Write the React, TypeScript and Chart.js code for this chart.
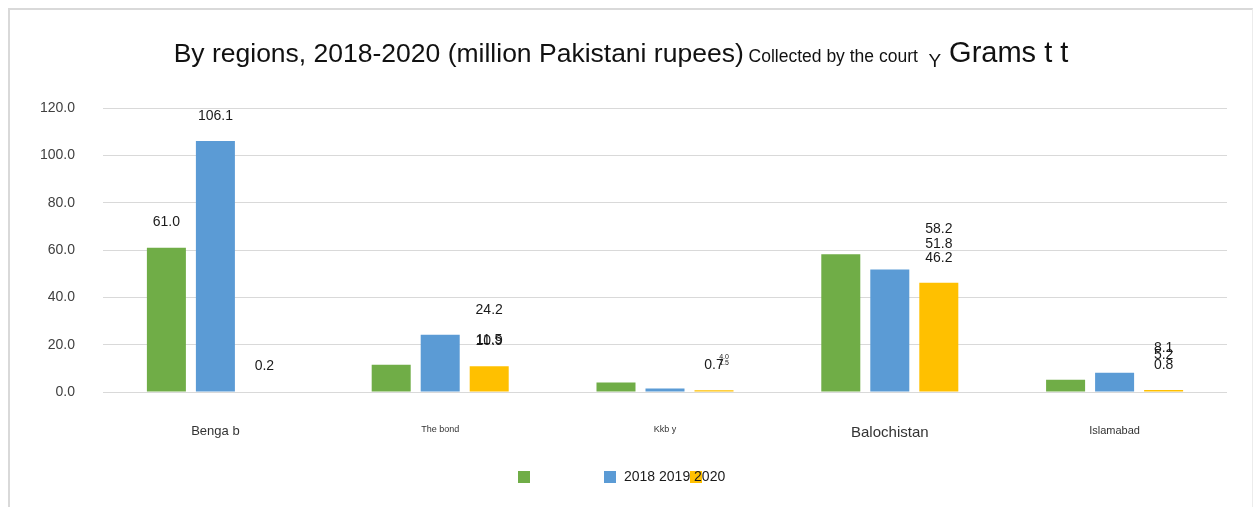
import React, { useEffect, useRef } from "react";
import { Chart, registerables } from "chart.js";

Chart.register(...registerables);

// ---- data ----
const categories = ["Benga b", "The bond", "Kkb y", "Balochistan", "Islamabad"];
const seriesGreen = [61.0, 11.5, 4.0, 58.2, 5.2];
const seriesBlue = [106.1, 24.2, 1.5, 51.8, 8.1];
const seriesYellow = [0.2, 10.9, 0.7, 46.2, 0.8];
const legendLabels = ["", "2018 2019 2020", ""];
const yMin = 0;
const yMax = 120;
const yStep = 20;
const titleMain = "By regions, 2018-2020 (million Pakistani rupees)";
const titleSmall = "Collected by the court";
const titleY = "Y";
const titleTail = "Grams t t";

// ---- styles ----
const FONT = "'Liberation Sans', Arial, sans-serif";
const COLORS = ["#70AD47", "#5B9BD5", "#FFC000"];
const categoryFontSizes = [13, 9, 9, 15, 11];
const tinyLabelCategory = 2;

const titlePlugin = {
  id: "customTitle",
  afterDraw(chart: any) {
    const ctx = chart.ctx;
    const parts = [
      { t: titleMain, s: 26.5, dy: 0 },
      { t: " " + titleSmall, s: 17.5, dy: 0 },
      { t: "  " + titleY, s: 19, dy: 5 },
      { t: " " + titleTail, s: 29, dy: 0 },
    ];
    ctx.save();
    ctx.fillStyle = "#111111";
    ctx.textBaseline = "alphabetic";
    ctx.textAlign = "left";
    let total = 0;
    const widths = parts.map((p) => {
      ctx.font = `${p.s}px ${FONT}`;
      const w = ctx.measureText(p.t).width;
      total += w;
      return w;
    });
    let x = 611 - total / 2;
    const base = 52;
    parts.forEach((p, i) => {
      ctx.font = `${p.s}px ${FONT}`;
      ctx.fillText(p.t, x, base + p.dy);
      x += widths[i];
    });
    ctx.restore();
  },
};

const labelPlugin = {
  id: "valueLabels",
  afterDatasetsDraw(chart: any) {
    const ctx = chart.ctx;
    ctx.save();
    ctx.fillStyle = "#1a1a1a";
    ctx.textAlign = "center";
    ctx.textBaseline = "middle";
    const n = chart.data.labels.length;
    for (let i = 0; i < n; i++) {
      chart.data.datasets.forEach((ds: any, d: number) => {
        const el = chart.getDatasetMeta(d).data[i];
        const anchor = i === 0 ? el : chart.getDatasetMeta(2).data[i];
        const tiny = i === tinyLabelCategory && d !== 2;
        ctx.font = `${tiny ? 7 : 14}px ${FONT}`;
        const dx = tiny ? 10 : 0;
        ctx.fillText(Number(ds.data[i]).toFixed(1), anchor.x + dx, el.y - 25);
      });
    }
    ctx.restore();
  },
};

const legendPlugin = {
  id: "customLegend",
  afterDraw(chart: any) {
    const ctx = chart.ctx;
    const cx = chart.width / 2;
    const y = 467;
    ctx.save();
    const boxes = [cx - 113, cx - 27, cx + 59];
    boxes.forEach((bx, i) => {
      ctx.fillStyle = COLORS[i];
      ctx.fillRect(bx, y - 6, 12, 12);
    });
    ctx.fillStyle = "#1a1a1a";
    ctx.font = `14px ${FONT}`;
    ctx.textBaseline = "middle";
    ctx.textAlign = "left";
    const textX = [cx - 97, cx - 7, cx + 75];
    legendLabels.forEach((t, i) => {
      if (t) ctx.fillText(t, textX[i], y);
    });
    ctx.restore();
  },
};

export default function App() {
  const ref = useRef<HTMLCanvasElement | null>(null);

  useEffect(() => {
    if (!ref.current) return;
    const chart = new Chart(ref.current, {
      type: "bar",
      data: {
        labels: categories,
        datasets: [
          { label: legendLabels[0], data: seriesGreen, backgroundColor: COLORS[0] },
          { label: legendLabels[1], data: seriesBlue, backgroundColor: COLORS[1] },
          { label: legendLabels[2], data: seriesYellow, backgroundColor: COLORS[2] },
        ],
      },
      options: {
        responsive: false,
        animation: false,
        layout: { padding: { top: 98, right: 25, left: 0, bottom: 0 } },
        datasets: {
          bar: { categoryPercentage: 0.654, barPercentage: 0.796 },
        },
        plugins: {
          legend: { display: false },
          title: { display: false },
          tooltip: { enabled: false },
        },
        scales: {
          x: {
            grid: { display: false, drawTicks: false },
            border: { display: false },
            ticks: {
              autoSkip: false,
              maxRotation: 0,
              padding: 32,
              color: "#333333",
              font: (c: any) => ({ size: categoryFontSizes[c.index] ?? 13, family: FONT }),
            },
            afterFit(scale: any) {
              scale.height = 115;
            },
          },
          y: {
            min: yMin,
            max: yMax,
            grid: { color: "#d9d9d9", lineWidth: 1, drawTicks: false },
            border: { display: false },
            ticks: {
              stepSize: yStep,
              padding: 28,
              color: "#404040",
              font: { size: 14, family: FONT },
              callback: (v: any) => Number(v).toFixed(1),
            },
            afterFit(scale: any) {
              scale.width = 93;
            },
          },
        },
      },
      plugins: [titlePlugin, labelPlugin, legendPlugin],
    });
    return () => chart.destroy();
  }, []);

  return (
    <div
      style={{
        position: "fixed",
        left: 8,
        top: 8,
        width: 1245,
        height: 499,
        boxSizing: "border-box",
        borderTop: "2px solid #d9d9d9",
        borderLeft: "2px solid #d9d9d9",
        borderRight: "1px solid #ececec",
        background: "#ffffff",
        overflow: "hidden",
      }}
    >
      <canvas ref={ref} width={1242} height={497} style={{ display: "block" }} />
    </div>
  );
}
